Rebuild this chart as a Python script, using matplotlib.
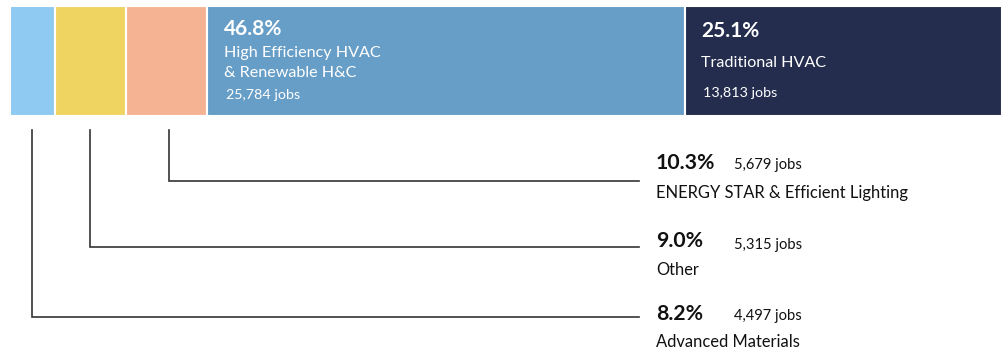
import matplotlib.pyplot as plt

plt.rcParams['font.family'] = ['Lato', 'DejaVu Sans']

# segments, left to right along the bar
names = ['Advanced Materials', 'Other', 'ENERGY STAR & Efficient Lighting',
         'High Efficiency HVAC\n& Renewable H&C', 'Traditional HVAC']
pcts = [8.2, 9.0, 10.3, 46.8, 25.1]
jobs = ['4,497', '5,315', '5,679', '25,784', '13,813']
# share of the bar each block takes in the picture (not drawn to scale there)
bar_share = [4.5, 7.2, 8.2, 48.1, 32.0]
colors = ['#8fcaf2', '#f0d462', '#f6b394', '#679ec7', '#252d4f']

fig = plt.figure(figsize=(10.03, 3.54), dpi=100)
ax = fig.add_axes([0, 0, 1, 1])
# x: bar units (0..100 spans the bar), y: pixels from the top
px = 992 / 100
ax.set_xlim(-10 / px, (1003 - 10) / px)
ax.set_ylim(354, 0)
ax.axis('off')

lefts = []
left = 0
for share, c in zip(bar_share, colors):
    ax.barh(61, share, left=left, height=110, color=c, edgecolor='white', linewidth=1.5)
    lefts.append(left)
    left += share

# big segments: labels inside
inside = {3: (35, [57, 77], 99), 4: (37, [67], 97)}
for i, (y_pct, y_names, y_jobs) in inside.items():
    x = lefts[i] + 1.7
    ax.text(x, y_pct, f'{pcts[i]}%', color='white', fontsize=15, fontweight='bold', va='baseline')
    for line, yy in zip(names[i].split('\n'), y_names):
        ax.text(x, yy, line, color='white', fontsize=11.6, va='baseline')
    ax.text(x + 0.2, y_jobs, f'{jobs[i]} jobs', color='white', fontsize=10.3, va='baseline')

# small segments: leader lines to labels on the right
row_line = {0: 317, 1: 247, 2: 181}
row_pct = {0: 320, 1: 247, 2: 169}
row_jobs = {0: 320, 1: 249, 2: 169}
row_name = {0: 347, 1: 275, 2: 198}
line_end = (639 - 10) / px
text_x = (656 - 10) / px
jobs_x = (734 - 10) / px
for i in range(3):
    xc = lefts[i] + bar_share[i] / 2 + (0.2 if i == 2 else 0)
    ax.plot([xc, xc, line_end], [130, row_line[i], row_line[i]], color='#333333', lw=1.2,
            solid_joinstyle='miter')
    ax.text(text_x, row_pct[i], f'{pcts[i]}%', color='#111111', fontsize=15.3, fontweight='bold', va='baseline')
    ax.text(jobs_x, row_jobs[i], f'{jobs[i]} jobs', color='#111111', fontsize=10.6, va='baseline')
    ax.text(text_x, row_name[i], names[i], color='#111111', fontsize=11.9, va='baseline')

plt.savefig('out.png', dpi=100)
